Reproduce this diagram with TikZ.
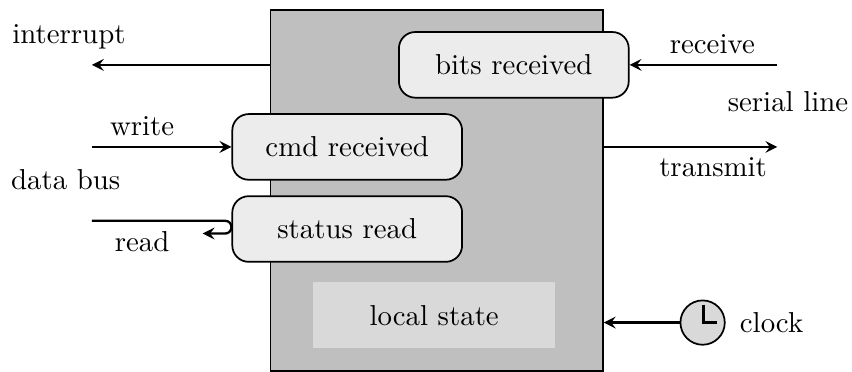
\documentclass[tikz,border=0pt]{standalone}
\usepackage{tikz}
\usetikzlibrary{positioning, arrows}

\begin{document}
\begin{tikzpicture}
	\tikzset{
	>=stealth, % makes the arrow heads bold
	node distance=1cm, % spacing between the handler boxes
	device/.style={draw, semithick, fill=gray!50, minimum width=4.05cm, minimum height=4.4cm}, % the outer block
	handler/.style={draw, semithick, rounded corners=2mm, fill=gray!15, minimum width=2.8cm, minimum height=0.8cm}, % event handlers
	store/.style={fill=gray!30, minimum width=2.95cm, minimum height=0.8cm}, % internal state
	wire/.style={->, thick} % signals in and out
	}
	\useasboundingbox (0,0) rectangle (10.38,-4.53);
	\node[device] (dev) at (5.32,-2.32) {};
	\node[handler] (bits) at (6.26,-0.79) {bits received};
	\node[handler] (cmd) at (4.23,-1.79) {cmd received};
	\node[handler, below of=cmd] (status) {status read};
	\node[store] (local) at (5.29,-3.84) {local state};
	\node[circle, draw, semithick, fill=gray!30, minimum size=0.54cm] (clk) at (8.56,-3.93) {};
	\node[right=0.05cm of clk] (clklbl) {clock};
	\draw[thick] ([shift={(0.01,0.22)}]clk.center) -- ([xshift=0.01cm]clk.center) -- ++(0.16,0);

	\node (busl) at (0.80,-2.19) {data bus};
	\node (irql) at (0.84,-0.45) {interrupt};
	\node (serl) at (9.60,-1.24) {serial line};

	\coordinate (irqout) at (1.12,-0.79);
	\coordinate (wrin) at (1.12,-1.79);
	\coordinate (rdin) at (1.12,-2.69);
	\coordinate (rxin) at (9.47,-0.79);
	\coordinate (txout) at (9.47,-1.79);

	\draw[wire] (irqout -| dev.west) -- (irqout);
	\draw[wire] (wrin) -- node[pos=0.36, above]{write} (cmd.west);
	\draw[wire, rounded corners=0.75mm] (rdin) -- node[pos=0.36, below]{read} (rdin -| status.west) -- ++(0,-0.155) -- ++(-0.35,0);
	\draw[wire] (rxin) -- node[pos=0.44, above]{receive} (bits.east);
	\draw[wire] (txout -| dev.east) -- node[pos=0.63, below]{transmit} (txout);
	\draw[wire] (clk) -- (clk -| dev.east);
\end{tikzpicture}
\end{document}
